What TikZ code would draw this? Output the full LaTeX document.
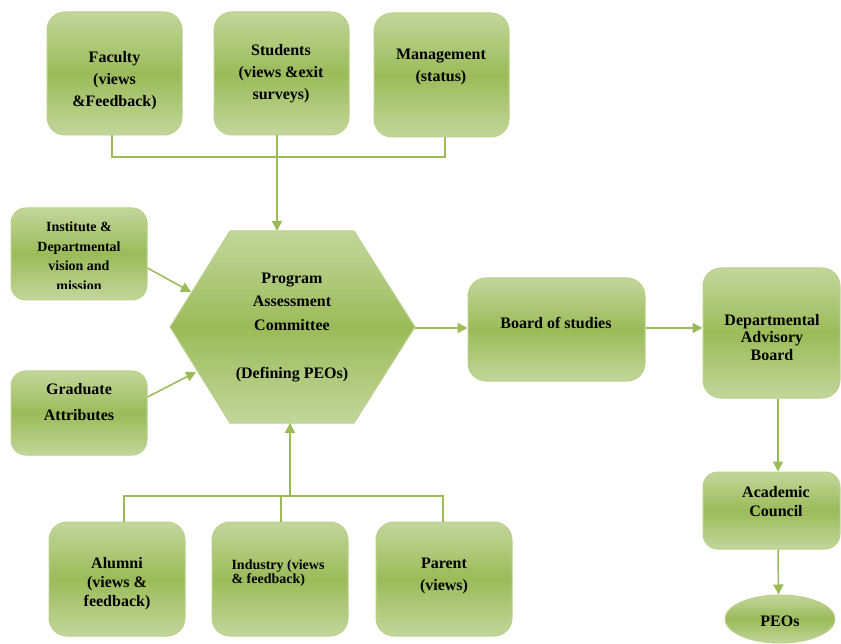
\documentclass[tikz,border=0pt]{standalone}
\usepackage{fontspec}
\setmainfont{Liberation Serif}
\usetikzlibrary{arrows.meta,shapes.geometric}

\definecolor{gLight}{HTML}{C3D69B}
\definecolor{gDark}{HTML}{9BBB59}
\definecolor{gEdge}{HTML}{B9D18C}
\definecolor{gLine}{HTML}{9BBB59}

\tikzset{
  gbox/.style={rounded corners=18pt, draw=gEdge, line width=1pt,
    top color=gLight, bottom color=gLight, middle color=gDark, inner sep=0pt},
  % labels are placed by the baseline of their last line
  lbl/.style={font=\bfseries\fontsize{16}{22}\selectfont, align=center,
    anchor=base, inner sep=0pt},
  conn/.style={draw=gLine, line width=1.5pt},
  arr/.style={conn, -{Triangle[length=10pt,width=10pt]}},
}

\begin{document}
\begin{tikzpicture}[x=1pt,y=-1pt]
  \path[fill=white] (0,0) rectangle (841,644);
  \useasboundingbox (0,0) rectangle (841,644);

  % stakeholder boxes, top row
  \node[gbox, minimum width=135pt, minimum height=123pt] (fac) at (114.5,73.5) {};
  \node[gbox, minimum width=135pt, minimum height=123pt] (stu) at (281.5,73.5) {};
  \node[gbox, minimum width=135pt, minimum height=124pt] (man) at (441.5,75) {};

  % inputs on the left
  \node[gbox, rounded corners=15pt, minimum width=136pt, minimum height=92pt] (ins) at (79,254) {};
  \node[gbox, rounded corners=15pt, minimum width=136pt, minimum height=84pt] (gra) at (79,413) {};

  % committee hexagon
  \coordinate (hL)  at (170,327);
  \coordinate (hTL) at (230,231);
  \coordinate (hTR) at (354,231);
  \coordinate (hR)  at (415,327);
  \coordinate (hBR) at (354,423);
  \coordinate (hBL) at (230,423);
  \path[draw=gEdge, line width=1pt, top color=gLight, bottom color=gLight, middle color=gDark]
    (hL) -- (hTL) -- (hTR) -- (hR) -- (hBR) -- (hBL) -- cycle;

  % approval chain
  \node[gbox, minimum width=177pt, minimum height=103pt] (bos) at (556.5,329.5) {};
  \node[gbox, minimum width=137pt, minimum height=130pt] (dab) at (771.5,333) {};
  \node[gbox, rounded corners=15pt, minimum width=137pt, minimum height=77pt] (acc) at (771.5,510.5) {};
  \node[ellipse, draw=gEdge, line width=1pt, top color=gLight, bottom color=gLight,
        middle color=gDark, minimum width=110pt, minimum height=48pt, inner sep=0pt] (peo) at (780,619) {};

  % stakeholder boxes, bottom row
  \node[gbox, minimum width=136pt, minimum height=114pt] (alu) at (117,579) {};
  \node[gbox, minimum width=136pt, minimum height=114pt] (ind) at (280,579) {};
  \node[gbox, minimum width=136pt, minimum height=114pt] (par) at (444,579) {};

  % labels
  \node[lbl] (tfac) at (114.5,107) {Faculty\\(views\\\&Feedback)};
  \node[lbl] (tstu) at (281,100) {Students\\(views \&exit\\surveys)};
  \node[lbl] (tman) at (441,82) {Management\\(status)};
  \begin{scope}
    \clip (11,208) rectangle (147,289);
    \node[lbl, font=\bfseries\fontsize{14}{19.5}\selectfont] (tins) at (79,290.5)
      {Institute \&\\Departmental\\vision and\\mission};
  \end{scope}
  \node[lbl, font=\bfseries\fontsize{16}{25}\selectfont] (tgra) at (79,420) {Graduate\\Attributes};
  \node[lbl, font=\bfseries\fontsize{16}{23.75}\selectfont] (tpac) at (292,378)
    {Program\\Assessment\\Committee\\\mbox{}\\(Defining PEOs)};
  \node[lbl] (tbos) at (556,329) {Board of studies};
  \node[lbl, font=\bfseries\fontsize{16}{17.5}\selectfont] (tdab) at (772,360) {Departmental\\Advisory\\Board};
  \node[lbl, font=\bfseries\fontsize{16}{19}\selectfont] (tacc) at (776,516) {Academic\\Council};
  \node[lbl] (tpeo) at (780,626) {PEOs};
  \node[lbl, font=\bfseries\fontsize{16}{19}\selectfont] (talu) at (117,606) {Alumni\\(views \&\\feedback)};
  \node[lbl, align=left, font=\bfseries\fontsize{14}{14.5}\selectfont] (tind) at (278,583.5) {Industry (views\\\& feedback)};
  \node[lbl] (tpar) at (444,590) {Parent\\(views)};

  % top feedback bus into the committee
  \coordinate (topbus) at (277,157);
  \coordinate (hexTop) at (277,231);
  \draw[conn] ([xshift=-2.5pt]fac.south) |- (topbus) -| ([xshift=3.5pt]man.south);
  \draw[arr] ([xshift=-4.5pt]stu.south) -- (hexTop);

  % bottom feedback bus into the committee
  \coordinate (botbus) at (290,496);
  \coordinate (hexBot) at (290,423);
  \draw[conn] ([xshift=7pt]alu.north) |- (botbus) -| ([xshift=-1pt]par.north);
  \draw[conn] ([xshift=1pt]ind.north) -- ([xshift=1pt]ind.north |- botbus);
  \draw[arr] (botbus) -- (hexBot);

  % side inputs
  \coordinate (hexIn1) at (191,292);
  \coordinate (hexIn2) at (196,372);
  \draw[arr] ([yshift=-14pt]ins.east) -- (hexIn1);
  \draw[arr] ([yshift=16pt]gra.east) -- (hexIn2);

  % approval chain connectors
  \coordinate (hexOut) at (415,328);
  \draw[arr] (hexOut) -- (hexOut -| bos.west);
  \draw[arr] (hexOut -| bos.east) -- (hexOut -| dab.west);
  \draw[arr] ([xshift=6.5pt]dab.south) -- ([xshift=6.5pt]acc.north);
  \draw[arr] ([xshift=6.5pt]acc.south) -- ([xshift=-1.5pt]peo.north);
\end{tikzpicture}
\end{document}
